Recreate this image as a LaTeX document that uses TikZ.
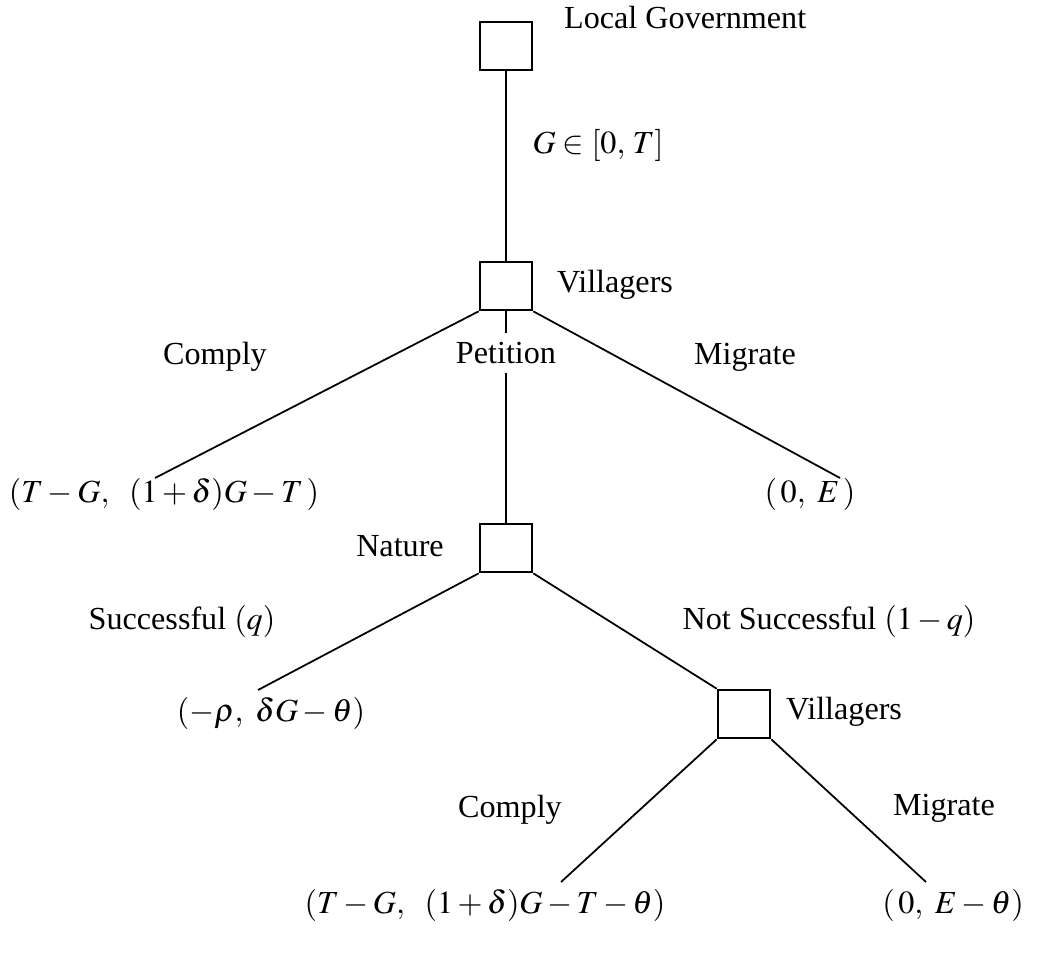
\documentclass[tikz,border=0pt]{standalone}
\usepackage{mathptmx}
\usepackage{fontspec}
\setmainfont{Liberation Serif}
\begin{document}
\begin{tikzpicture}[x=0.02cm,y=-0.02cm,
 every node/.style ={font=\fontsize{18.3}{22}\selectfont},
 box/.style ={rectangle, draw=black, line width=1.5pt, fill=white, minimum width=1.04cm, minimum height=0.96cm, inner sep=0pt},
 line/.style ={draw, line width=1pt}]
\useasboundingbox (0,0) rectangle (1037,957);

\draw (506,46) node[box] (lg) {};
\draw (558,18) node[anchor=west] (lgtxt) {Local Government};
\draw (598,145) node[] (choice) {$G \in [0,\,T]$};

\draw (506,286) node[box] (v1) {};
\draw (615,285) node[] (v1txt) {Villagers};

\draw (215,357) node[] (comply1) {Comply};
\draw (506,353) node[inner sep=5pt] (pet) {Petition};
\draw (745,357) node[] (migrate1) {Migrate};

\draw (164,494) node[] (pay1) {$(T-G,\ \ (1+\delta)G-T\,)$};
\draw (810,494) node[] (pay2) {$(\,0,\ E\,)$};

\draw (506,548) node[box] (nat) {};
\draw (400,546) node[] (nattxt) {Nature};

\draw (182,621) node[] (succ) {Successful $(q)$};
\draw (829,621) node[] (nsucc) {Not Successful $(1-q)$};
\draw (271,713) node[] (pay3) {$(-\rho,\ \delta G-\theta)$};

\draw (744,714) node[box] (v2) {};
\draw (844,712) node[] (v2txt) {Villagers};

\draw (510,810) node[] (comply2) {Comply};
\draw (944,808) node[] (migrate2) {Migrate};

\draw (485,905) node[] (pay4) {$(T-G,\ \ (1+\delta)G-T-\theta)$};
\draw (953,905) node[] (pay5) {$(\,0,\ E-\theta)$};

% free ends above the payoffs
\coordinate (e1) at (155,478);
\coordinate (e2) at (840,478);
\coordinate (e3) at (258,690);
\coordinate (e4) at (561,882);
\coordinate (e5) at (926,882);

	\draw [line] (lg) to (v1);
	\draw [line] (v1.south west) to (e1);
	\draw [line] (v1) to (pet);
	\draw [line] (pet) to (nat);
	\draw [line] (v1.south east) to (e2);
	\draw [line] (nat.south west) to (e3);
	\draw [line] (nat.south east) to (v2.north west);
	\draw [line] (v2.south west) to (e4);
	\draw [line] (v2.south east) to (e5);

\end{tikzpicture}
\end{document}
